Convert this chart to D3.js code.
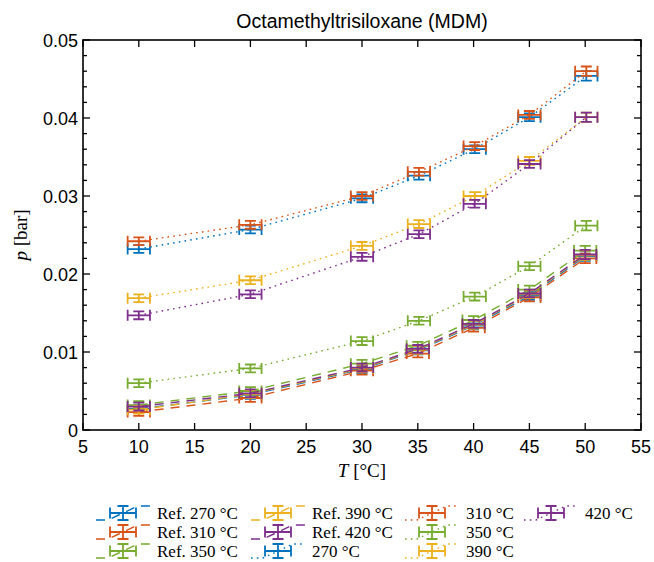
<!DOCTYPE html>
<html><head><meta charset="utf-8">
<script src="https://cdn.jsdelivr.net/npm/d3@7"></script>
<style>body{margin:0;background:#fff}</style>
</head><body>
<svg id="c" width="654" height="562" xmlns="http://www.w3.org/2000/svg"></svg>
<script>
// ---------- data ----------
const seriesNames = ["Ref. 270 °C","Ref. 310 °C","Ref. 350 °C","Ref. 390 °C","Ref. 420 °C",
                     "270 °C","310 °C","350 °C","390 °C","420 °C"];
const seriesColors = ["#0072BD","#D95319","#77AC30","#EDB120","#7E2F8E",
                      "#0072BD","#D95319","#77AC30","#EDB120","#7E2F8E"];
const refT   = [10, 20, 30, 35, 40, 45, 50];
const measT  = [10, 20, 30, 35.1, 40.1, 45, 50.1];
const ref270 = [0.0027, 0.0045, 0.0078, 0.0102, 0.0134, 0.0172, 0.0223];
const ref310 = [0.0023, 0.0041, 0.0076, 0.0098, 0.0131, 0.0170, 0.0220];
const ref350 = [0.0032, 0.0050, 0.0085, 0.0108, 0.0141, 0.0180, 0.0230];
const ref390 = [0.0026, 0.0046, 0.0079, 0.0103, 0.0135, 0.0174, 0.0224];
const ref420 = [0.0030, 0.0047, 0.0080, 0.0104, 0.0136, 0.0175, 0.0225];
const m270   = [0.0232, 0.0257, 0.0297, 0.0326, 0.0360, 0.0401, 0.0454];
const m310   = [0.0242, 0.0263, 0.0300, 0.0331, 0.0364, 0.0404, 0.0460];
const m350   = [0.0060, 0.0079, 0.0114, 0.0140, 0.0171, 0.0210, 0.0262];
const m390   = [0.0169, 0.0192, 0.0236, 0.0264, 0.0300, 0.0345, 0.0401];
const m420   = [0.0147, 0.0174, 0.0222, 0.0251, 0.0290, 0.0341, 0.0401];
const xErr   = [1, 1, 1, 1, 1, 1, 1];
const yErr   = [0.0005, 0.0005, 0.0005, 0.0005, 0.0005, 0.0005, 0.0006];
const xTicks = [5,10,15,20,25,30,35,40,45,50,55];
const yTicks = [0,0.01,0.02,0.03,0.04,0.05];
const yMinorTicks = d3.range(0, 0.0501, 0.002);

const seriesT = [refT,refT,refT,refT,refT,measT,measT,measT,measT,measT];
const seriesP = [ref270,ref310,ref350,ref390,ref420,m270,m310,m350,m390,m420];
const seriesDash = ["9,7","9,7","9,7","9,7","9,7","1.6,4.2","1.6,4.2","1.6,4.2","1.6,4.2","1.6,4.2"];

// ---------- layout ----------
const L = 83, R = 641, TOP = 40, B = 430;
const svg = d3.select("#c");
const x = d3.scaleLinear().domain([5,55]).range([L,R]);
const y = d3.scaleLinear().domain([0,0.05]).range([B,TOP]);
const sans = "'Liberation Sans', Arial, Helvetica, sans-serif";
const serif = "'Liberation Serif', 'Times New Roman', serif";

// ---------- series ----------
const capW = 11;
const line = d3.line().x(d=>x(d[0])).y(d=>y(d[1]));
seriesP.forEach((P,i)=>{
  const g = svg.append("g");
  const c = seriesColors[i];
  const pts = P.map((p,k)=>[seriesT[i][k], p]);
  g.append("path").attr("d", line(pts)).attr("fill","none").attr("stroke",c)
    .attr("stroke-width",1.4).attr("stroke-dasharray",seriesDash[i]);
  pts.forEach((d,k)=>{
    const cx = x(d[0]), cy = y(d[1]);
    const x0 = x(d[0]-xErr[k]), x1 = x(d[0]+xErr[k]);
    const y0 = y(d[1]-yErr[k]), y1 = y(d[1]+yErr[k]);
    const path = `M${x0},${cy}H${x1}M${x0},${cy-capW/2}V${cy+capW/2}M${x1},${cy-capW/2}V${cy+capW/2}`+
                 `M${cx},${y0}V${y1}M${cx-capW/2},${y0}H${cx+capW/2}M${cx-capW/2},${y1}H${cx+capW/2}`;
    g.append("path").attr("d",path).attr("fill","none").attr("stroke",c).attr("stroke-width",1.8);
  });
});

// ---------- axes ----------
const ax = svg.append("g").attr("stroke","#000").attr("fill","none");
ax.append("rect").attr("x",L).attr("y",TOP).attr("width",R-L).attr("height",B-TOP).attr("stroke-width",1.6);
xTicks.forEach(t=>{
  ax.append("line").attr("x1",x(t)).attr("x2",x(t)).attr("y1",B).attr("y2",B-7).attr("stroke-width",1.3);
  ax.append("line").attr("x1",x(t)).attr("x2",x(t)).attr("y1",TOP).attr("y2",TOP+7).attr("stroke-width",1.3);
});
yMinorTicks.forEach(t=>{
  const major = yTicks.some(v=>Math.abs(v-t)<1e-9);
  const len = major ? 7 : 4;
  ax.append("line").attr("x1",L).attr("x2",L+len).attr("y1",y(t)).attr("y2",y(t)).attr("stroke-width",1.3);
  ax.append("line").attr("x1",R).attr("x2",R-len).attr("y1",y(t)).attr("y2",y(t)).attr("stroke-width",1.3);
});
const tl = svg.append("g").attr("font-family",sans).attr("font-size",18).attr("fill","#000");
xTicks.forEach(t=>{
  tl.append("text").attr("x",x(t)).attr("y",B+23).attr("text-anchor","middle").text(d3.format("d")(t));
});
yTicks.forEach(t=>{
  tl.append("text").attr("x",L-5).attr("y",y(t)+6.5).attr("text-anchor","end").text(t===0?"0":d3.format(".2f")(t));
});

// title
svg.append("text").attr("x",(L+R)/2).attr("y",28).attr("text-anchor","middle")
  .attr("font-family",sans).attr("font-size",19.5).text("Octamethyltrisiloxane (MDM)");

// axis labels
const xl = svg.append("text").attr("x",(L+R)/2).attr("y",477).attr("text-anchor","middle")
  .attr("font-family",serif).attr("font-size",19);
xl.append("tspan").attr("font-style","italic").text("T");
xl.append("tspan").text(" [°C]");
const yl = svg.append("text").attr("transform",`translate(27,${(TOP+B)/2}) rotate(-90)`).attr("text-anchor","middle")
  .attr("font-family",serif).attr("font-size",19);
yl.append("tspan").attr("font-style","italic").text("p");
yl.append("tspan").text(" [bar]");

// ---------- legend ----------
const colIconX = [96, 251, 405, 524];
const rowY = [513, 532, 551];
const iconW = 54;
seriesNames.forEach((name,i)=>{
  const col = Math.floor(i/3), row = i%3;
  const x0 = colIconX[col], x1 = x0+iconW, cy = rowY[row], cx = (x0+x1)/2;
  const c = seriesColors[i];
  const g = svg.append("g");
  g.append("path").attr("d",`M${x0},${cy+7}H${x0+12}L${x1-12},${cy-7}H${x1}`).attr("fill","none")
    .attr("stroke",c).attr("stroke-width",1.4).attr("stroke-dasharray",seriesDash[i]);
  const hw = 13, cw = capW/2;
  g.append("path").attr("d",`M${cx-hw},${cy}H${cx+hw}M${cx-hw},${cy-cw}V${cy+cw}M${cx+hw},${cy-cw}V${cy+cw}`+
      `M${cx},${cy-7}V${cy+7}M${cx-cw},${cy-7}H${cx+cw}M${cx-cw},${cy+7}H${cx+cw}`)
    .attr("fill","none").attr("stroke",c).attr("stroke-width",1.8);
  g.append("text").attr("x",x1+7).attr("y",cy+5.5).attr("font-family",serif).attr("font-size",17)
    .attr("fill","#000").text(name);
});
</script>
</body></html>
